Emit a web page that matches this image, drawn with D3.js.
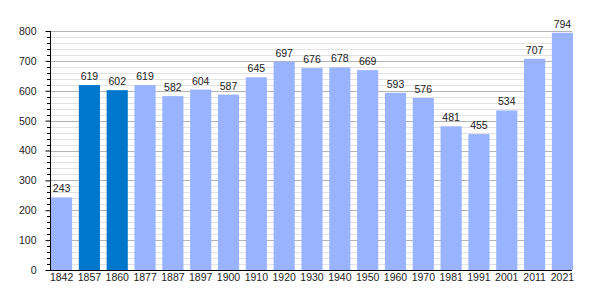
<!DOCTYPE html>
<html><head><meta charset="utf-8">
<script src="https://cdn.jsdelivr.net/npm/d3@7"></script>
<style>body{margin:0;background:#fff}svg{display:block}</style>
</head><body>
<svg id="c" width="600" height="300"></svg>
<script>
const years = ["1842","1857","1860","1877","1887","1897","1900","1910","1920","1930","1940","1950","1960","1970","1981","1991","2001","2011","2021"];
const population = [243,619,602,619,582,604,587,645,697,676,678,669,593,576,481,455,534,707,794];
const highlighted = ["1857","1860"];
const yTicks = [0,100,200,300,400,500,600,700,800];

const svg = d3.select("#c");
const L = 50, R = 572, T = 31, B = 270;
const x = d3.scaleBand().domain(years).range([L, R]).paddingInner(0.24).paddingOuter(0);
const y = d3.scaleLinear().domain([0, 800]).range([B, T]);
const font = "Liberation Sans, Arial, sans-serif";
const fs = 10.5;

const minor = d3.range(0, 801, 20).filter(v => v % 100 !== 0);
svg.append("g").selectAll("line").data(minor).join("line")
  .attr("x1", L).attr("x2", R).attr("y1", d => Math.round(y(d)) + 0.5).attr("y2", d => Math.round(y(d)) + 0.5)
  .attr("stroke", "#e2e2e2").attr("stroke-width", 1);
svg.append("g").selectAll("line").data(yTicks.filter(v => v > 0)).join("line")
  .attr("x1", L).attr("x2", R).attr("y1", d => Math.round(y(d)) + 0.5).attr("y2", d => Math.round(y(d)) + 0.5)
  .attr("stroke", "#b4b4b4").attr("stroke-width", 1);

svg.append("g").selectAll("rect").data(years).join("rect")
  .attr("x", d => x(d) + 1).attr("width", x.bandwidth())
  .attr("y", (d, i) => y(population[i])).attr("height", (d, i) => B - y(population[i]))
  .attr("fill", d => highlighted.includes(d) ? "#0077cc" : "#99b3ff");

svg.append("g").selectAll("text").data(years).join("text")
  .attr("x", d => x(d) + 1 + x.bandwidth() / 2)
  .attr("y", (d, i) => y(population[i]) - 5)
  .attr("text-anchor", "middle").attr("font-family", font).attr("font-size", fs).attr("fill", "#222")
  .text((d, i) => population[i]);

// y axis
const ya = svg.append("g").attr("transform", `translate(${L + 0.5},0)`)
  .call(d3.axisLeft(y).tickValues(yTicks).tickSize(5).tickPadding(9).tickFormat(d3.format("d")));
ya.select(".domain").remove();
ya.selectAll("text").attr("font-family", font).attr("font-size", fs).attr("fill", "#222");
ya.selectAll("line").attr("stroke", "#000");
svg.append("g").selectAll("line").data(minor).join("line")
  .attr("x1", L - 3).attr("x2", L).attr("y1", d => Math.round(y(d)) + 0.5).attr("y2", d => Math.round(y(d)) + 0.5)
  .attr("stroke", "#000");
svg.append("line").attr("x1", L + 0.5).attr("x2", L + 0.5).attr("y1", T).attr("y2", B).attr("stroke", "#000");

// x axis
const xa = svg.append("g").attr("transform", `translate(1,${B + 0.5})`)
  .call(d3.axisBottom(x).tickSize(0).tickPadding(3));
xa.select(".domain").remove();
xa.selectAll("text").attr("font-family", font).attr("font-size", fs).attr("fill", "#222");
svg.append("line").attr("x1", L).attr("x2", R).attr("y1", B + 0.5).attr("y2", B + 0.5).attr("stroke", "#000");
</script>
</body></html>
